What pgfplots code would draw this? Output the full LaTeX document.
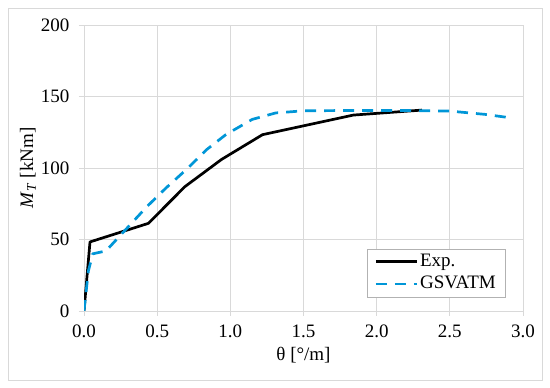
\documentclass[border=0pt]{standalone}
\usepackage{fontspec}
\setmainfont{Liberation Serif}
\usepackage{pgfplots}
\pgfplotsset{compat=1.18}
\definecolor{gsv}{RGB}{0,150,215}
\definecolor{gridc}{RGB}{217,217,217}
\definecolor{framec}{RGB}{217,217,217}
\begin{document}
\fontsize{19}{22}\selectfont
\begin{tikzpicture}[x=1pt,y=1pt]
\useasboundingbox (0,0) rectangle (550,388);
\draw[framec, line width=0.8pt] (8,8) rectangle (542,380);
\begin{axis}[
  at={(84pt,77pt)}, anchor=south west,
  scale only axis, width=439pt, height=286pt,
  xmin=0, xmax=3, ymin=0, ymax=200,
  xtick={0,0.5,1,1.5,2,2.5,3},
  ytick={0,50,100,150,200},
  grid=major,
  grid style={gridc, line width=0.8pt},
  axis line style={gridc, line width=0.8pt},
  tick style={gridc, line width=0.8pt},
  tick align=outside,
  major tick length=5pt,
  xtick pos=bottom, ytick pos=left,
  xticklabel style={/pgf/number format/fixed, /pgf/number format/fixed zerofill, /pgf/number format/precision=1, yshift=-2pt},
  /pgf/number format/assume math mode=true,
  tick label style={font=\fontsize{19}{22}\selectfont, black},
  yticklabel style={xshift=-3pt},
  xlabel={θ [°/m]},
  ylabel={\textit{M}\textsubscript{\textit{T}} [kNm]},
  label style={font=\fontsize{19}{22}\selectfont},
  xlabel style={at={(rel axis cs:0.5,-0.1538)}, anchor=center},
  ylabel style={at={(rel axis cs:-0.1276,0.5)}, anchor=center},
  legend style={at={(rel axis cs:0.959,0.049)}, anchor=south east,
    draw=gray!60, fill=white, font=\fontsize{19}{22}\selectfont,
    inner xsep=7pt, inner ysep=3pt, row sep=3pt},
  legend cell align=left,
  legend image code/.code={\draw[#1] (0pt,0pt) -- (41pt,0pt);},
]
\addplot[black, line width=2.7pt, line join=round] coordinates {
(0,0) (0.041,48.3) (0.44,61.3) (0.69,87) (0.94,106) (1.22,123.3) (1.84,137) (2.31,140.5)
};
\addlegendentry{Exp.}
\addplot[gsv, line width=2.7pt, dash pattern=on 11pt off 8pt, line join=round] coordinates {
(0,0) (0.03,28) (0.06,40) (0.15,42) (0.29,57.5) (0.43,73) (0.56,86) (0.70,99) (0.84,113) (0.97,123.4) (1.15,134) (1.31,138.5) (1.5,140) (1.8,140.2) (2.2,140.2) (2.5,139.8) (2.74,137.5) (2.9,135.3)
};
\addlegendentry{GSVATM}
\end{axis}
\end{tikzpicture}
\end{document}
